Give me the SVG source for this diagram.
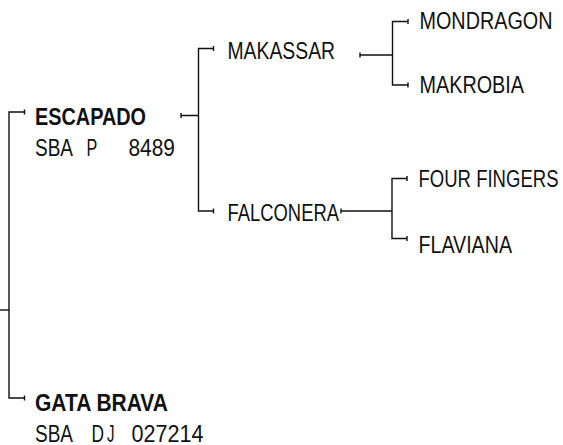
<svg xmlns="http://www.w3.org/2000/svg" width="563" height="445" viewBox="0 0 563 445">
<style>
.t{font-family:"Liberation Sans",Arial,sans-serif;font-size:23.5px;fill:#111111}
.b{font-weight:bold}
.c{stroke:#111111;stroke-width:1.4;fill:none}
</style>
<rect width="563" height="445" fill="#ffffff"/>
<g id="connectors" class="c">
  <path d="M0,310 H9"/>
  <path d="M24.5,112 H9 V398 H24.5"/>
  <path d="M24.5,109.5 V114.5 M24.5,395.5 V400.5"/>
  <path d="M181,115.5 H198.5 M181,113 V118"/>
  <path d="M213.5,48.5 H198.5 V211 H213.5"/>
  <path d="M213.5,46 V51 M213.5,208.5 V213.5"/>
  <path d="M360,55 H392.5 M360,52.5 V57.5"/>
  <path d="M408,21.5 H392.5 V85 H408"/>
  <path d="M408,19 V24 M408,82.5 V87.5"/>
  <path d="M341,211 H392 M341,208.5 V213.5"/>
  <path d="M407,178.5 H392 V238.5 H407"/>
  <path d="M407,176 V181 M407,236 V241"/>
</g>
<g id="escapado">
  <text class="t b" x="35" y="124.5" textLength="111" lengthAdjust="spacingAndGlyphs">ESCAPADO</text>
  <text class="t" y="155.5"><tspan x="35" textLength="37" lengthAdjust="spacingAndGlyphs">SBA</tspan> <tspan x="86.5" textLength="10.5" lengthAdjust="spacingAndGlyphs">P</tspan> <tspan x="128.5" textLength="46.5" lengthAdjust="spacingAndGlyphs">8489</tspan></text>
</g>
<g id="gata-brava">
  <text class="t b" x="35" y="411" textLength="133" lengthAdjust="spacingAndGlyphs">GATA BRAVA</text>
  <text class="t" y="442"><tspan x="35" textLength="37" lengthAdjust="spacingAndGlyphs">SBA</tspan> <tspan x="91.5" textLength="12.5" lengthAdjust="spacingAndGlyphs">D</tspan> <tspan x="107" textLength="7.5" lengthAdjust="spacingAndGlyphs">J</tspan> <tspan x="131.5" textLength="72" lengthAdjust="spacingAndGlyphs">027214</tspan></text>
</g>
<g id="makassar">
  <text class="t" x="227.5" y="59" textLength="107.5" lengthAdjust="spacingAndGlyphs">MAKASSAR</text>
</g>
<g id="falconera">
  <text class="t" x="227.5" y="221" textLength="111.5" lengthAdjust="spacingAndGlyphs">FALCONERA</text>
</g>
<g id="mondragon">
  <text class="t" x="419.5" y="28.5" textLength="133" lengthAdjust="spacingAndGlyphs">MONDRAGON</text>
</g>
<g id="makrobia">
  <text class="t" x="419.5" y="93" textLength="104.5" lengthAdjust="spacingAndGlyphs">MAKROBIA</text>
</g>
<g id="four-fingers">
  <text class="t" x="418.5" y="186.5" textLength="140" lengthAdjust="spacingAndGlyphs">FOUR FINGERS</text>
</g>
<g id="flaviana">
  <text class="t" x="418.5" y="253" textLength="93.5" lengthAdjust="spacingAndGlyphs">FLAVIANA</text>
</g>
</svg>
